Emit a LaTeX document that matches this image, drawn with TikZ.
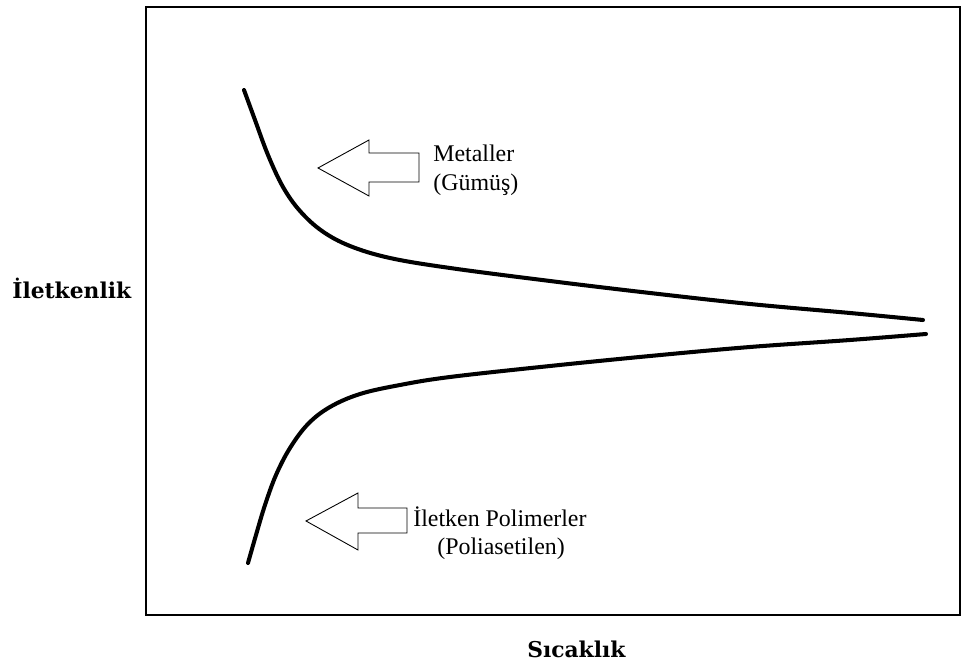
\documentclass[tikz,border=0pt]{standalone}
\usepackage{fontspec}
\setmainfont{Liberation Serif}
\newfontfamily\axisfont{DejaVu Serif}
\tikzset{
  curveline/.style={line width=2.3pt, line cap=round},
  blockarrow/.style={line width=0.5pt, fill=white},
  noteText/.style={anchor=base west, inner sep=0pt, font=\fontsize{13.6}{16}\selectfont},
  axisText/.style={anchor=base west, inner sep=0pt, font=\axisfont\bfseries\fontsize{12.4}{14}\selectfont}
}
\begin{document}
\begin{tikzpicture}[x=0.02cm, y=-0.02cm]
        \useasboundingbox (0,0) rectangle (961,668);
        % frame
        \draw[line width=1pt] (146,7) rectangle (960,615);

        % axis labels
        \node[axisText] (ylab) at (12,299) {İletkenlik};
        \node[axisText] (xlab) at (527,658) {Sıcaklık};

        % metals
        \draw[curveline] plot[smooth, tension=0.6] coordinates {(244,90) (255,120) (268,155) (283,187) (300,211) (322,231) (350,246) (390,258) (450,268) (550,281) (650,293) (750,304) (850,313) (923,320)};
        \draw[blockarrow] (318,168) -- (369,140) -- (369,153) -- (419,153) -- (419,182) -- (369,182) -- (369,196) -- cycle;
        \node[noteText] (metal) at (433,162) {Metaller};
        \node[noteText] (silver) at (433,191) {(Gümüş)};

        % polymers
        \draw[curveline] plot[smooth, tension=0.6] coordinates {(248,563) (256,535) (265,505) (276,475) (290,448) (308,424) (330,407) (360,394) (400,385) (450,377) (550,366) (650,356) (750,347) (850,340) (926,334)};
        \draw[blockarrow] (306,521) -- (358,493) -- (358,508) -- (407,508) -- (407,533) -- (358,533) -- (358,550) -- cycle;
        \node[noteText] (poly) at (413,527) {İletken Polimerler};
        \node[noteText] (pa) at (437,555) {(Poliasetilen)};
    \end{tikzpicture}
\end{document}
